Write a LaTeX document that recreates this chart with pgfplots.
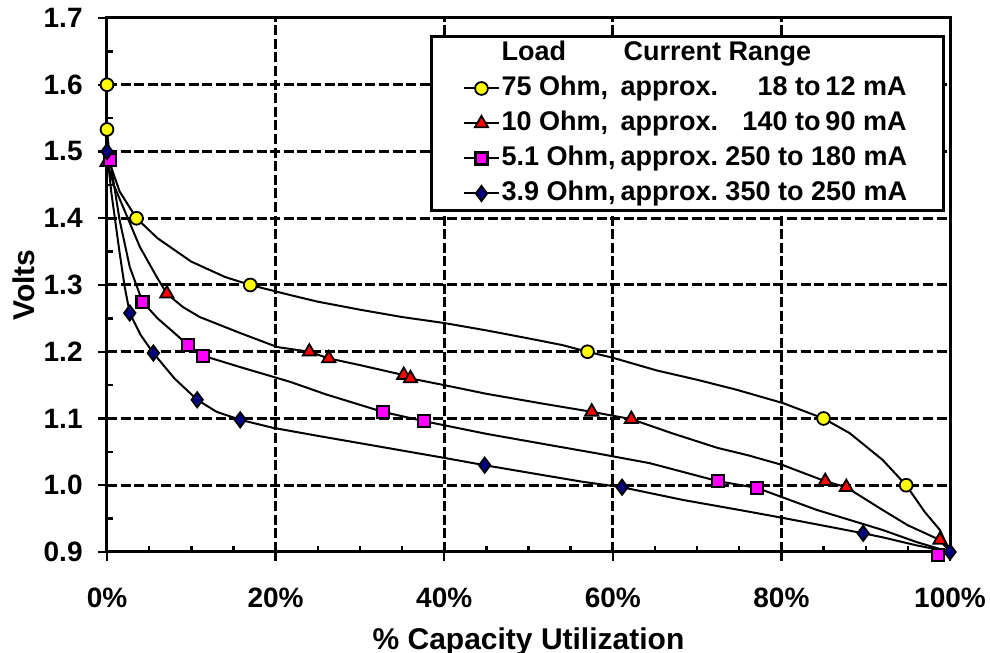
\documentclass[border=0pt]{standalone}
\usepackage{fontspec}
\setmainfont{Liberation Sans}
\usepackage{pgfplots}
\pgfplotsset{compat=1.18}
\definecolor{ylw}{RGB}{255,255,0}
\definecolor{rd}{RGB}{255,0,0}
\definecolor{mag}{RGB}{255,0,255}
\definecolor{nvy}{RGB}{0,0,128}
\newcommand{\rowA}[3]{\makebox[204pt][l]{\hbox to 143pt{\makebox[59.5pt][l]{#1}approx.\hfill #2}\hbox to 34pt{\ to\hfill #3}\ mA}}
\newcommand{\rowB}[3]{\makebox[204pt][l]{\hbox to 134.5pt{\makebox[59.5pt][l]{#1}approx.\hfill #2}\ to #3 mA}}
\begin{document}
\begin{tikzpicture}
\begin{axis}[
  name=ax, scale only axis, width=421.5pt, height=267pt,
  xmin=0, xmax=100, ymin=0.9, ymax=1.7,
  clip=false,
  xtick={0,20,40,60,80,100},
  xticklabels={0\%,20\%,40\%,60\%,80\%,100\%},
  ytick={0.9,1,1.1,1.2,1.3,1.4,1.5,1.6,1.7},
  yticklabels={0.9,1.0,1.1,1.2,1.3,1.4,1.5,1.6,1.7},
  minor x tick num=3, minor y tick num=1,
  xtick pos=left, ytick pos=left,
  tick align=inside, major tick length=4.5pt, minor tick length=3pt,
  extra x ticks={0,20,40,60,80,100}, extra x tick labels={},
  extra x tick style={tick align=outside, grid=none},
  extra y ticks={0.9,1,1.1,1.2,1.3,1.4,1.5,1.6,1.7}, extra y tick labels={},
  extra y tick style={tick align=outside, grid=none},
  tick style={black, line width=1.2pt},
  axis line style={line width=1.5pt},
  grid=major,
  major grid style={black, line width=1.5pt, dash pattern=on 5pt off 1.8pt},
  tick label style={font=\fontsize{14}{16}\selectfont\bfseries},
  xticklabel style={inner sep=0pt, anchor=north, yshift=-18pt},
  yticklabel style={inner sep=0pt, anchor=east, xshift=-12pt},
  xlabel={\% Capacity Utilization},
  ylabel={Volts},
  label style={font=\fontsize{15}{17}\selectfont\bfseries},
  xlabel style={at={(axis description cs:0.5,-0.1404)}, anchor=north, inner sep=0pt},
  ylabel style={at={(axis description cs:-0.1127,0.5)}, anchor=north, inner sep=0pt},
  legend cell align=left,
  legend style={at={(axis description cs:0.994,0.968)}, anchor=north east,
    draw=black, line width=1.4pt, fill=white, inner xsep=16pt, inner ysep=1pt,
    row sep=2.5pt,
    nodes={inner sep=1pt, text height=10pt, text depth=3pt},
    font=\fontsize{13.5}{16}\selectfont\bfseries},
]
% ---- curves (lines) ----
\addplot[black, line width=1pt, forget plot] coordinates {
(0,1.60)(0,1.533)(0.4,1.48)(1.5,1.44)(3.5,1.40)(6,1.37)(10,1.335)(14,1.312)(17,1.30)
(21.7,1.285)(25,1.275)(30,1.263)(35,1.252)(40,1.243)(45,1.232)(50,1.220)(54,1.21)
(57,1.20)(60,1.191)(65.2,1.172)(70,1.158)(74.7,1.143)(80.2,1.123)(85,1.10)(88.1,1.078)
(92,1.038)(94.8,1.0)(97,0.96)(98.8,0.933)(100,0.9)};
\addplot[black, line width=1pt, forget plot] coordinates {
(0,1.484)(0.8,1.45)(1.9,1.417)(3.9,1.357)(5.9,1.312)(7.1,1.287)(9,1.267)(11,1.252)
(15.8,1.228)(20.2,1.207)(24,1.20)(26.3,1.19)(30,1.18)(35.2,1.165)(36,1.16)(40,1.15)
(45,1.137)(51.8,1.122)(57.5,1.11)(62.2,1.099)(67,1.078)(72.4,1.056)(76,1.045)(80.2,1.030)
(85.2,1.006)(87.7,0.997)(92,0.963)(95,0.94)(98.8,0.918)(100,0.9)};
\addplot[black, line width=1pt, forget plot] coordinates {
(0.4,1.484)(1.5,1.397)(2.7,1.327)(4.2,1.275)(6,1.25)(8,1.228)(9.6,1.21)(11.4,1.194)
(15.8,1.177)(21.7,1.155)(26,1.136)(32.7,1.11)(37.6,1.096)(45,1.077)(52.6,1.06)(58,1.048)
(64.4,1.033)(72.5,1.006)(77.1,0.996)(84.2,0.963)(92,0.933)(96,0.915)(100,0.9)};
\addplot[black, line width=1pt, forget plot] coordinates {
(0,1.50)(0.5,1.44)(1.5,1.348)(2.1,1.297)(2.7,1.258)(4,1.225)(5.5,1.198)(8,1.16)
(10.7,1.128)(13,1.11)(15.8,1.098)(19.7,1.086)(25,1.074)(30,1.063)(35,1.052)(40,1.041)
(44.8,1.03)(51.8,1.015)(56.5,1.005)(61.1,0.997)(68.3,0.978)(75,0.963)(80.2,0.951)
(86,0.937)(89.7,0.928)(92,0.922)(96,0.91)(100,0.9)};
% ---- markers ----
\addplot[only marks, forget plot, mark=*, mark size=3.2pt, mark options={fill=ylw, draw=black, line width=0.9pt}] coordinates {
(0,1.60)(0,1.533)(3.5,1.40)(17,1.30)(57,1.20)(85,1.10)(94.8,1.0)};
\addplot[only marks, forget plot, mark=triangle*, mark size=3.8pt, mark options={fill=rd, draw=black, line width=0.9pt}] coordinates {
(0,1.484)(7.1,1.287)(24,1.20)(26.3,1.19)(35.2,1.165)(36,1.16)(57.5,1.11)(62.2,1.099)(85.2,1.006)(87.7,0.997)(98.8,0.918)};
\addplot[only marks, forget plot, mark=square*, mark size=3pt, mark options={fill=mag, draw=black, line width=1.1pt}] coordinates {
(0.4,1.487)(4.2,1.275)(9.6,1.21)(11.4,1.194)(32.7,1.11)(37.6,1.096)(72.5,1.006)(77.1,0.996)(98.6,0.895)};
\addplot[only marks, forget plot, mark=diamond*, mark size=3.8pt, mark options={fill=nvy, draw=black, line width=0.9pt}] coordinates {
(0,1.50)(2.7,1.258)(5.5,1.198)(10.7,1.128)(15.8,1.098)(44.8,1.03)(61.1,0.997)(89.7,0.928)(100,0.9)};
% ---- legend ----
\addlegendimage{empty legend}
\addlegendentry{\makebox[204pt][l]{\makebox[61pt][l]{Load}Current Range}}
\addlegendimage{black, line width=1pt, mark=*, mark size=3.2pt, mark options={fill=ylw, draw=black, line width=0.9pt, solid}}
\addlegendentry{\rowA{75 Ohm,}{18}{12}}
\addlegendimage{black, line width=1pt, mark=triangle*, mark size=3.8pt, mark options={fill=rd, draw=black, line width=0.9pt, solid}}
\addlegendentry{\rowA{10 Ohm,}{140}{90}}
\addlegendimage{black, line width=1pt, mark=square*, mark size=3pt, mark options={fill=mag, draw=black, line width=1.1pt, solid}}
\addlegendentry{\rowB{5.1 Ohm,}{250}{180}}
\addlegendimage{black, line width=1pt, mark=diamond*, mark size=3.8pt, mark options={fill=nvy, draw=black, line width=0.9pt, solid}}
\addlegendentry{\rowB{3.9 Ohm,}{350}{250}}
\end{axis}
\pgfresetboundingbox
\path ([shift={(-53.5pt,-50.5pt)}]ax.south west) rectangle ([shift={(20pt,9pt)}]ax.north east);
\end{tikzpicture}
\end{document}
